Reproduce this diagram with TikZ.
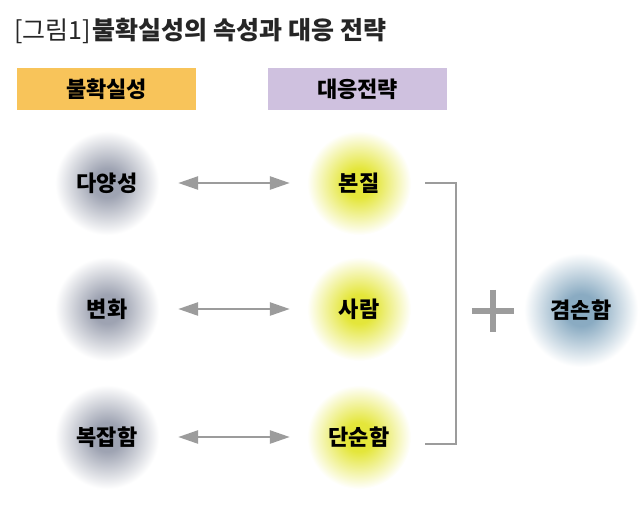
\documentclass[tikz,border=0pt]{standalone}
\usepackage{fontspec}
\setmainfont{Noto Sans CJK KR}
\usetikzlibrary{arrows.meta}
\definecolor{hdrorange}{HTML}{F8C45A}
\definecolor{hdrpurple}{HTML}{CFC1DF}
\definecolor{graycore}{HTML}{9EA3B2}
\definecolor{yelcore}{HTML}{E4E63A}
\definecolor{bluecore}{HTML}{8AABC2}
\definecolor{linegray}{HTML}{9C9C9C}
\pgfdeclareradialshading{grayblob}{\pgfpoint{0bp}{0bp}}{color(0bp)=(graycore); color(7bp)=(graycore); color(25bp)=(white); color(50bp)=(white)}
\pgfdeclareradialshading{yelblob}{\pgfpoint{0bp}{0bp}}{color(0bp)=(yelcore); color(7bp)=(yelcore); color(25bp)=(white); color(50bp)=(white)}
\pgfdeclareradialshading{blueblob}{\pgfpoint{0bp}{0bp}}{color(0bp)=(bluecore); color(7bp)=(bluecore); color(25bp)=(white); color(50bp)=(white)}
\tikzset{
  hdr/.style={minimum width=179pt, minimum height=42pt, inner sep=0pt, font=\fontsize{22}{24}\selectfont\bfseries},
  blob/.style={circle, minimum size=104pt, inner sep=0pt, shading=#1, font=\fontsize{22}{24}\selectfont\bfseries},
  twoway/.style={draw=linegray, line width=2.6pt, {Triangle[length=20pt,width=13pt]}-{Triangle[length=20pt,width=13pt]}, shorten <=19pt, shorten >=17pt},
  brk/.style={draw=linegray, line width=2pt},
}
\begin{document}
\begin{tikzpicture}[x=1pt,y=-1pt]
\useasboundingbox[fill=white] (0,0) rectangle (640,507);
\node[anchor=west, inner sep=0pt] (title) at (14,31)
  {\fontsize{25}{28}\selectfont\color{black!85}[그림1]\hspace{2pt}\bfseries 불확실성의 속성과 대응 전략};
\node[hdr, fill=hdrorange] (h1) at (106.5,89) {불확실성};
\node[hdr, fill=hdrpurple] (h2) at (357.5,89) {대응전략};

\node[blob=grayblob] (l1) at (107,183) {다양성};
\node[blob=grayblob] (l2) at (107,309) {변화};
\node[blob=grayblob] (l3) at (107,437) {복잡함};

\node[blob=yelblob] (r1) at (359,183) {본질};
\node[blob=yelblob] (r2) at (359,309) {사람};
\node[blob=yelblob] (r3) at (359,437) {단순함};

\node[blob=blueblob, minimum size=114pt] (hum) at (581,310) {겸손함};

\draw[twoway] (l1) -- (r1);
\draw[twoway] (l2) -- (r2);
\draw[twoway] (l3) -- (r3);

\coordinate (bt) at (425,183);
\coordinate (bb) at (425,444);
\draw[brk] (bt) -- (456,183) -- (456,444) -- (bb);

\node[minimum size=42pt, inner sep=0pt] (plus) at (493,311) {};
\draw[linegray, line width=6pt] (plus.west) -- (plus.east);
\draw[linegray, line width=6pt] (plus.north) -- (plus.south);
\end{tikzpicture}
\end{document}
